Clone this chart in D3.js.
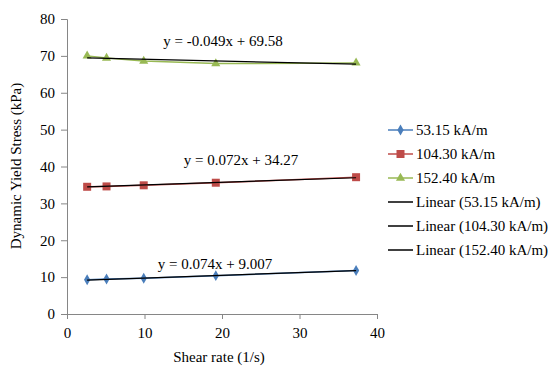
<!DOCTYPE html>
<html>
<head>
<meta charset="utf-8">
<script src="https://cdn.jsdelivr.net/npm/d3@7"></script>
<style>
  body { margin: 0; background: #fff; }
  text { font-family: "Liberation Serif", "Times New Roman", serif; fill: #000; }
</style>
</head>
<body>
<svg id="chart"></svg>
<script>
// shear rate (1/s)
const shearRate = [2.6, 5.1, 9.9, 19.2, 37.3]
// dynamic yield stress (kPa) per field strength
const s53 = [9.3, 9.5, 9.7, 10.4, 11.8]
const s104 = [34.5, 34.6, 34.9, 35.6, 37.1]
const s152 = [70.0, 69.4, 68.6, 67.9, 68.1]
const seriesNames = ['53.15 kA/m', '104.30 kA/m', '152.40 kA/m']
// linear fits shown on the chart
const slopes = [0.074, 0.072, -0.049]
const intercepts = [9.007, 34.27, 69.58]
const fitLabels = ['y = 0.074x + 9.007', 'y = 0.072x + 34.27', 'y = -0.049x + 69.58']
const xTicks = [0, 10, 20, 30, 40]
const yTicks = [0, 10, 20, 30, 40, 50, 60, 70, 80]

const width = 558, height = 370
const margin = { left: 67, top: 19, right: 181, bottom: 56 }
const colors = ['#4A7EBB', '#BE4B48', '#98B954']
const symbols = [d3.symbolDiamond, d3.symbolSquare, d3.symbolTriangle]
const symSizes = [34, 64, 36]

const svg = d3.select('#chart').attr('width', width).attr('height', height)

const x = d3.scaleLinear().domain([0, 40]).range([margin.left, width - margin.right])
const y = d3.scaleLinear().domain([0, 80]).range([height - margin.bottom, margin.top])

// axes
const xAxis = svg.append('g')
  .attr('transform', 'translate(0,' + y(0) + ')')
  .call(d3.axisBottom(x).tickValues(xTicks).tickSize(5).tickPadding(8))
const yAxis = svg.append('g')
  .attr('transform', 'translate(' + x(0) + ',0)')
  .call(d3.axisLeft(y).tickValues(yTicks).tickSize(6).tickPadding(6))
;[xAxis, yAxis].forEach(a => {
  a.attr('font-family', null)
  a.select('.domain').attr('stroke', '#868686')
  a.selectAll('.tick line').attr('stroke', '#868686')
  a.selectAll('.tick text')
    .style('font-size', '15px')
    .style('font-family', '"Liberation Serif", serif')
})

const data = [s53, s104, s152]

// data series
data.forEach((vals, i) => {
  const pts = shearRate.map((sr, j) => [sr, vals[j]])
  svg.append('path')
    .attr('d', d3.line().x(d => x(d[0])).y(d => y(d[1]))(pts))
    .attr('fill', 'none')
    .attr('stroke', colors[i])
    .attr('stroke-width', 1.5)
  svg.selectAll('.m' + i)
    .data(pts)
    .enter()
    .append('path')
    .attr('d', d3.symbol().type(symbols[i]).size(symSizes[i]))
    .attr('transform', d => 'translate(' + x(d[0]) + ',' + y(d[1]) + ')')
    .attr('fill', colors[i])
})

// trend lines
const xMin = d3.min(shearRate), xMax = d3.max(shearRate)
data.forEach((vals, i) => {
  svg.append('line')
    .attr('x1', x(xMin)).attr('y1', y(slopes[i] * xMin + intercepts[i]))
    .attr('x2', x(xMax)).attr('y2', y(slopes[i] * xMax + intercepts[i]))
    .attr('stroke', '#000')
    .attr('stroke-width', 1.2)
})

// equation labels
const labelPos = [[215, 269], [241, 165], [223, 46]]
fitLabels.forEach((t, i) => {
  svg.append('text')
    .attr('x', labelPos[i][0]).attr('y', labelPos[i][1])
    .attr('text-anchor', 'middle')
    .style('font-size', '15px')
    .text(t)
})

// axis titles
svg.append('text')
  .attr('x', x(20) - 3).attr('y', 362)
  .attr('text-anchor', 'middle')
  .style('font-size', '15px')
  .text('Shear rate (1/s)')
svg.append('text')
  .attr('transform', 'translate(21,' + 166 + ') rotate(-90)')
  .attr('text-anchor', 'middle')
  .style('font-size', '15px')
  .text('Dynamic Yield Stress (kPa)')

// legend
const legendItems = seriesNames.map((n, i) => ({ name: n, color: colors[i], sym: i }))
  .concat(seriesNames.map(n => ({ name: 'Linear (' + n + ')', color: '#000', sym: -1 })))
const lg = svg.append('g')
legendItems.forEach((d, i) => {
  const ly = 130 + i * 24
  lg.append('line')
    .attr('x1', 388).attr('x2', 413).attr('y1', ly).attr('y2', ly)
    .attr('stroke', d.color).attr('stroke-width', 1.5)
  if (d.sym >= 0) {
    lg.append('path')
      .attr('d', d3.symbol().type(symbols[d.sym]).size(symSizes[d.sym]))
      .attr('transform', 'translate(400.5,' + ly + ')')
      .attr('fill', d.color)
  }
  lg.append('text')
    .attr('x', 416).attr('y', ly + 5)
    .style('font-size', '15px')
    .text(d.name)
})
</script>
</body>
</html>
